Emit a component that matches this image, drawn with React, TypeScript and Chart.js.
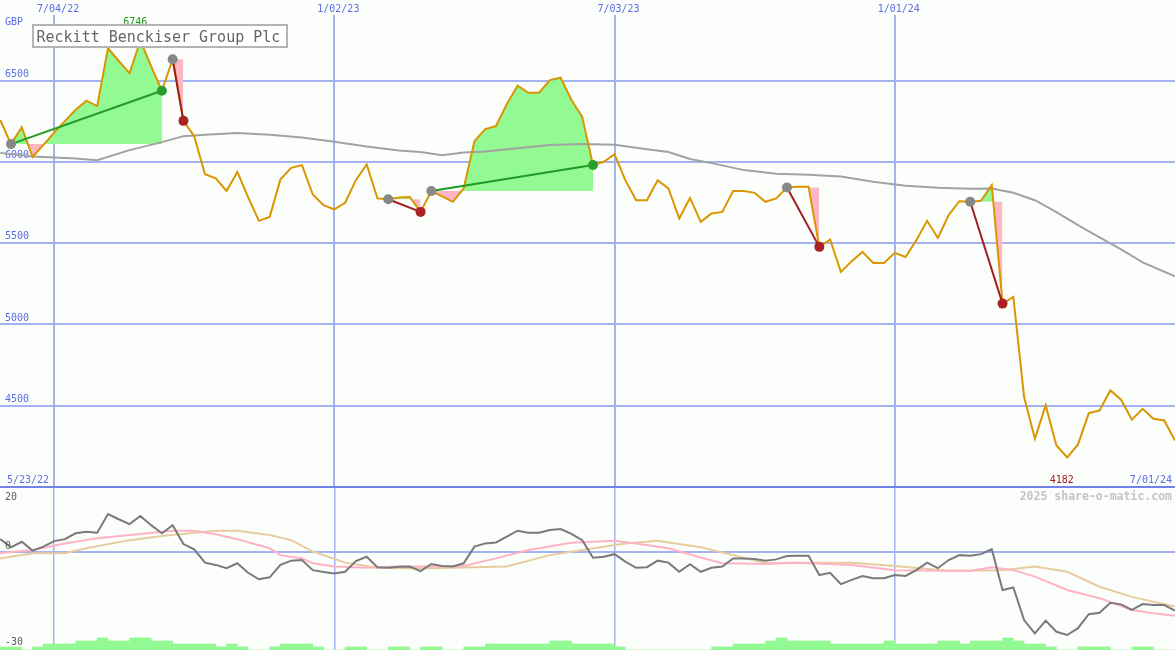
import React, { useEffect, useRef } from 'react';
import { Chart, registerables } from 'chart.js';

Chart.register(...registerables);

// ---------- data ----------
const FIRST_WEEK = 1; // week index counted from 5/23/22
const price = [
  6257, 6109, 6212, 6031, 6103, 6180, 6250, 6320, 6376, 6343,
  6698, 6620, 6544, 6746, 6589, 6437, 6631, 6252, 6158, 5924,
  5898, 5821, 5938, 5783, 5637, 5661, 5892, 5963, 5980, 5799,
  5733, 5707, 5748, 5887, 5984, 5775, 5770, 5781, 5784, 5692,
  5820, 5787, 5754, 5836, 6127, 6201, 6220, 6355, 6468, 6425,
  6425, 6503, 6517, 6380, 6277, 5980, 6000, 6047, 5887, 5764,
  5764, 5887, 5836, 5651, 5778, 5631, 5682, 5692, 5821, 5820,
  5809, 5754, 5775, 5842, 5846, 5846, 5477, 5522, 5323, 5389,
  5446, 5378, 5378, 5440, 5415, 5518, 5637, 5532, 5672, 5758,
  5754, 5760, 5857, 5128, 5169, 4553, 4297, 4502, 4255, 4182,
  4262, 4454, 4471, 4594, 4537, 4414, 4481, 4420, 4409, 4286,
];

const maWeeks = [1, 4, 8, 10, 13, 16, 18, 20, 23, 26, 29, 32, 35, 38, 40, 42, 44, 46, 49, 52, 55, 58, 61, 63, 65, 67, 70, 73, 76, 79, 82, 85, 88, 91, 93, 95, 97, 99, 101, 103, 105, 107, 110];
const maValues = [6055, 6032, 6020, 6010, 6072, 6121, 6158, 6167, 6177, 6167, 6149, 6124, 6094, 6069, 6060, 6041, 6057, 6064, 6084, 6103, 6109, 6105, 6078, 6060, 6017, 5992, 5949, 5927, 5921, 5909, 5878, 5853, 5840, 5835, 5836, 5810, 5764, 5690, 5610, 5536, 5462, 5382, 5296];

const tradeEntryWeeks = [2, 17, 37, 41, 74, 91];
const tradeExitWeeks = [16, 18, 40, 56, 77, 94];

const osc = [
  4.0, 1.5, 3.2, 0.5, 1.7, 3.4, 4.0, 5.8, 6.3, 6.0,
  11.7, 10.1, 8.6, 11.1, 8.3, 5.8, 8.3, 2.5, 0.9, -3.2,
  -3.9, -4.9, -3.4, -6.3, -8.3, -7.7, -3.9, -2.6, -2.4, -5.5,
  -6.1, -6.5, -6.0, -2.7, -1.4, -4.6, -4.8, -4.5, -4.4, -5.8,
  -3.6, -4.2, -4.4, -3.4, 1.7, 2.7, 3.0, 4.8, 6.6, 6.0,
  6.0, 6.8, 7.1, 5.6, 3.7, -1.7, -1.4, -0.6, -2.9, -4.8,
  -4.6, -2.6, -3.2, -6.0, -3.7, -6.0, -4.8, -4.4, -1.9, -1.9,
  -2.1, -2.6, -2.2, -1.2, -1.1, -1.1, -7.0, -6.3, -9.8, -8.5,
  -7.3, -8.0, -8.0, -7.0, -7.3, -5.5, -3.2, -4.9, -2.4, -0.9,
  -1.1, -0.6, 0.9, -11.6, -10.8, -20.8, -24.9, -21.0, -24.4, -25.4,
  -23.3, -19.0, -18.6, -15.5, -16.0, -17.7, -15.9, -16.2, -16.2, -17.9,
];

const pinkWeeks = [1, 4, 7, 10, 13, 17, 19, 21, 23, 26, 27, 29, 30, 32, 35, 38, 42, 44, 47, 50, 54, 58, 60, 63, 66, 68, 72, 75, 80, 84, 91, 93, 95, 97, 100, 103, 106, 108, 110];
const pinkValues = [-0.3, 0.7, 2.7, 4.3, 5.3, 6.6, 6.6, 5.5, 4.0, 1.2, -0.9, -1.9, -3.4, -4.4, -4.8, -4.4, -4.4, -4.2, -1.9, 0.7, 2.9, 3.5, 2.7, 1.2, -1.6, -3.4, -3.6, -3.2, -3.9, -5.5, -5.8, -4.6, -5.5, -7.5, -11.6, -14.1, -17.7, -18.7, -19.5];

const tanWeeks = [1, 4, 7, 9, 13, 16, 21, 23, 26, 28, 30, 33, 36, 38, 41, 48, 52, 55, 59, 62, 66, 69, 72, 75, 80, 84, 89, 94, 97, 100, 103, 106, 110];
const tanValues = [-1.9, -0.3, -0.3, 1.2, 3.7, 5.0, 6.6, 6.6, 5.3, 3.7, 0.2, -3.2, -4.8, -4.9, -4.9, -4.4, -0.9, 0.7, 2.7, 3.5, 1.5, -0.9, -3.4, -3.2, -3.2, -4.2, -5.7, -5.5, -4.4, -6.0, -10.6, -13.7, -16.7];

const volume = [
  1, 1, 0, 1, 2, 2, 2, 3, 3, 4,
  3, 3, 4, 4, 3, 3, 2, 2, 2, 2,
  1, 2, 1, 0, 0, 1, 2, 2, 2, 1,
  0, 0, 1, 1, 0, 0, 1, 1, 0, 1,
  1, 0, 0, 1, 1, 2, 2, 2, 2, 2,
  2, 3, 3, 2, 2, 2, 2, 1, 0, 0,
  0, 0, 0, 0, 0, 0, 1, 1, 2, 2,
  2, 3, 4, 3, 3, 3, 3, 2, 2, 2,
  2, 2, 3, 2, 2, 2, 2, 3, 3, 2,
  3, 3, 3, 4, 3, 2, 2, 1, 0, 0,
  1, 1, 1, 0, 0, 1, 1, 0, 0,
];

const dateTickWeeks = [6, 32, 58, 84];
const dateTickLabels = ['7/04/22', '1/02/23', '7/03/23', '1/01/24'];
const priceTicks = [4500, 5000, 5500, 6000, 6500];
const oscTickValues = [20, 0, -30];
const startLabel = '5/23/22';
const endLabel = '7/01/24';
const titleText = 'Reckitt Benckiser Group Plc';
const currencyText = 'GBP';
const watermarkText = '2025 share-o-matic.com';

// ---------- styling ----------
const MONO = '"DejaVu Sans Mono", monospace';
const BG = '#FBFEFB';
const GRID = '#A4B2F0';
const SEP = '#7283E8';
const BLUE_TEXT = '#5A6CE8';
const PRICE_COL = '#DA9600';
const MA_COL = '#A2A2A2';
const FILL_GREEN = '#93F993';
const FILL_PINK = '#FFB6C4';
const LINE_GREEN = '#229922';
const LINE_RED = '#A01E1E';
const DOT_GRAY = '#888888';
const DOT_GREEN = '#2A9E2A';
const DOT_RED = '#AA2222';
const OSC_COL = '#7A7A7A';
const PINK_COL = '#FFB2C6';
const TAN_COL = '#E6CDA0';
const VOL_COL = '#93F993';
const X_MIN = 0.98;
const X_MAX = 110;

const priceAt = (w: number) => price[w - FIRST_WEEK];

const zeroPad = (s: any) => {
  s.paddingLeft = 0;
  s.paddingRight = 0;
  s.paddingTop = 0;
  s.paddingBottom = 0;
};

function topConfig(): any {
  const datasets: any[] = [];
  tradeEntryWeeks.forEach((e, t) => {
    const x = tradeExitWeeks[t];
    const win = priceAt(x) > priceAt(e);
    datasets.push({
      type: 'line',
      data: [{ x: e, y: priceAt(e) }, { x, y: priceAt(x) }],
      borderColor: win ? LINE_GREEN : LINE_RED,
      borderWidth: 2,
      pointRadius: 5,
      pointBorderWidth: 0,
      pointBackgroundColor: [DOT_GRAY, win ? DOT_GREEN : DOT_RED],
      fill: false,
      order: 0,
    });
  });
  datasets.push({
    type: 'line',
    data: price.map((v, k) => ({ x: FIRST_WEEK + k, y: v })),
    borderColor: PRICE_COL,
    borderWidth: 2,
    pointRadius: 0,
    fill: false,
    order: 1,
  });
  datasets.push({
    type: 'line',
    data: maWeeks.map((w, k) => ({ x: w, y: maValues[k] })),
    borderColor: MA_COL,
    borderWidth: 2,
    pointRadius: 0,
    fill: false,
    order: 2,
  });
  tradeEntryWeeks.forEach((e, t) => {
    const x = tradeExitWeeks[t];
    const pts = [];
    for (let w = e; w <= x; w++) pts.push({ x: w, y: priceAt(w) });
    datasets.push({
      type: 'line',
      data: pts,
      borderColor: 'rgba(0,0,0,0)',
      borderWidth: 0,
      pointRadius: 0,
      fill: { target: { value: priceAt(e) }, above: FILL_GREEN, below: FILL_PINK },
      order: 3,
    });
  });

  const textPlugin = {
    id: 'topText',
    afterDatasetsDraw(chart: any) {
      const { ctx } = chart;
      const xs = chart.scales.x;
      ctx.save();
      ctx.font = `10px ${MONO}`;
      ctx.textBaseline = 'alphabetic';
      ctx.fillStyle = BLUE_TEXT;
      ctx.textAlign = 'left';
      ctx.fillText(currencyText, 5, 25);
      let maxK = 0;
      let minK = 0;
      price.forEach((v, k) => {
        if (v > price[maxK]) maxK = k;
        if (v < price[minK]) minK = k;
      });
      ctx.textAlign = 'center';
      ctx.fillStyle = LINE_GREEN;
      ctx.fillText(String(price[maxK]), xs.getPixelForValue(FIRST_WEEK + maxK) - 5, 25);
      ctx.fillStyle = LINE_RED;
      ctx.fillText(String(price[minK]), xs.getPixelForValue(FIRST_WEEK + minK) - 5.5, 483);
      ctx.fillStyle = BLUE_TEXT;
      ctx.textAlign = 'left';
      ctx.fillText(startLabel, 7, 483);
      ctx.textAlign = 'right';
      ctx.fillText(endLabel, 1172, 483);
      // title box
      ctx.fillStyle = '#FFFFFF';
      ctx.fillRect(33, 25, 254, 22);
      ctx.strokeStyle = '#B4B4B4';
      ctx.lineWidth = 2;
      ctx.strokeRect(33, 25, 254, 22);
      ctx.font = `15px ${MONO}`;
      ctx.fillStyle = '#666666';
      ctx.textAlign = 'left';
      ctx.fillText(titleText, 36.5, 41.5);
      ctx.restore();
    },
  };

  return {
    type: 'line',
    data: { datasets },
    plugins: [textPlugin],
    options: {
      responsive: false,
      animation: false,
      devicePixelRatio: 1,
      events: [],
      layout: { padding: 0, autoPadding: false },
      plugins: { legend: { display: false }, tooltip: { enabled: false } },
      scales: {
        x: {
          type: 'linear',
          position: 'top',
          min: X_MIN,
          max: X_MAX,
          offset: false,
          afterBuildTicks: (s: any) => { s.ticks = dateTickWeeks.map((v) => ({ value: v })); },
          afterFit: (s: any) => { s.height = 15; zeroPad(s); },
          ticks: {
            autoSkip: false,
            maxRotation: 0,
            minRotation: 0,
            padding: 0,
            labelOffset: 4,
            color: BLUE_TEXT,
            font: { family: MONO, size: 10 },
            callback: (v: any) => {
              const k = dateTickWeeks.indexOf(Number(v));
              return k >= 0 ? dateTickLabels[k] : '';
            },
          },
          grid: { color: GRID, lineWidth: 2, drawTicks: false, offset: false },
          border: { display: false },
        },
        y: {
          type: 'linear',
          position: 'left',
          min: 4000,
          max: 6903,
          afterBuildTicks: (s: any) => { s.ticks = priceTicks.map((v) => ({ value: v })); },
          afterFit: (s: any) => { s.width = 0; zeroPad(s); },
          ticks: {
            mirror: true,
            padding: 5,
            labelOffset: -6.5,
            autoSkip: false,
            color: BLUE_TEXT,
            font: { family: MONO, size: 10 },
            callback: (v: any) => String(v),
          },
          grid: { color: GRID, lineWidth: 2, drawTicks: false },
          border: { display: false },
        },
      },
    },
  };
}

function bottomConfig(): any {
  const datasets: any[] = [
    {
      type: 'line',
      data: osc.map((v, k) => ({ x: FIRST_WEEK + k, y: v })),
      borderColor: OSC_COL,
      borderWidth: 2,
      pointRadius: 0,
      order: 0,
    },
    {
      type: 'line',
      data: pinkWeeks.map((w, k) => ({ x: w, y: pinkValues[k] })),
      borderColor: PINK_COL,
      borderWidth: 2,
      pointRadius: 0,
      order: 1,
    },
    {
      type: 'line',
      data: tanWeeks.map((w, k) => ({ x: w, y: tanValues[k] })),
      borderColor: TAN_COL,
      borderWidth: 2,
      pointRadius: 0,
      order: 2,
    },
    {
      type: 'bar',
      yAxisID: 'yv',
      data: volume.map((v, k) => ({ x: FIRST_WEEK + k + 0.5, y: v })),
      backgroundColor: VOL_COL,
      borderWidth: 0,
      barPercentage: 1,
      categoryPercentage: 1,
      order: 3,
    },
  ];

  const textPlugin = {
    id: 'bottomText',
    afterDraw(chart: any) {
      const { ctx, chartArea } = chart;
      const ys = chart.scales.y;
      ctx.save();
      ctx.fillStyle = SEP;
      ctx.fillRect(0, chartArea.top - 1, chart.width, 2);
      ctx.font = `10px ${MONO}`;
      ctx.fillStyle = '#5A5A5A';
      ctx.textAlign = 'left';
      ctx.textBaseline = 'alphabetic';
      const offs = [13, -3, -5];
      oscTickValues.forEach((v, k) => {
        ctx.fillText(String(v), 5, ys.getPixelForValue(v) + offs[k]);
      });
      ctx.font = `bold 11.5px ${MONO}`;
      ctx.fillStyle = '#C4C4C4';
      ctx.textAlign = 'right';
      ctx.fillText(watermarkText, 1172, ys.getPixelForValue(20) + 13);
      ctx.restore();
    },
  };

  return {
    type: 'line',
    data: { datasets },
    plugins: [textPlugin],
    options: {
      responsive: false,
      animation: false,
      devicePixelRatio: 1,
      events: [],
      layout: { padding: { top: 1, left: 0, right: 0, bottom: 0 }, autoPadding: false },
      plugins: { legend: { display: false }, tooltip: { enabled: false } },
      scales: {
        x: {
          type: 'linear',
          position: 'bottom',
          min: X_MIN,
          max: X_MAX,
          offset: false,
          afterBuildTicks: (s: any) => { s.ticks = dateTickWeeks.map((v) => ({ value: v })); },
          afterFit: (s: any) => { s.height = 0; zeroPad(s); },
          ticks: { display: false },
          grid: { color: GRID, lineWidth: 1.5, drawTicks: false, offset: false },
          border: { display: false },
        },
        y: {
          type: 'linear',
          position: 'left',
          min: -30,
          max: 20,
          afterBuildTicks: (s: any) => { s.ticks = [{ value: 0 }]; },
          afterFit: (s: any) => { s.width = 0; zeroPad(s); },
          ticks: { display: false },
          grid: { color: GRID, lineWidth: 2, drawTicks: false },
          border: { display: false },
        },
        yv: {
          type: 'linear',
          display: false,
          min: 0,
          max: 163 / 3,
        },
      },
    },
  };
}

export default function App() {
  const topRef = useRef<HTMLCanvasElement | null>(null);
  const botRef = useRef<HTMLCanvasElement | null>(null);

  useEffect(() => {
    const c1 = new Chart(topRef.current as HTMLCanvasElement, topConfig());
    const c2 = new Chart(botRef.current as HTMLCanvasElement, bottomConfig());
    return () => {
      c1.destroy();
      c2.destroy();
    };
  }, []);

  return (
    <div style={{ position: 'fixed', left: 0, top: 0, width: 1175, height: 650, background: BG, overflow: 'hidden' }}>
      <canvas ref={topRef} width={1175} height={487} style={{ position: 'absolute', left: 0, top: 0 }} />
      <canvas ref={botRef} width={1175} height={164} style={{ position: 'absolute', left: 0, top: 486 }} />
    </div>
  );
}
